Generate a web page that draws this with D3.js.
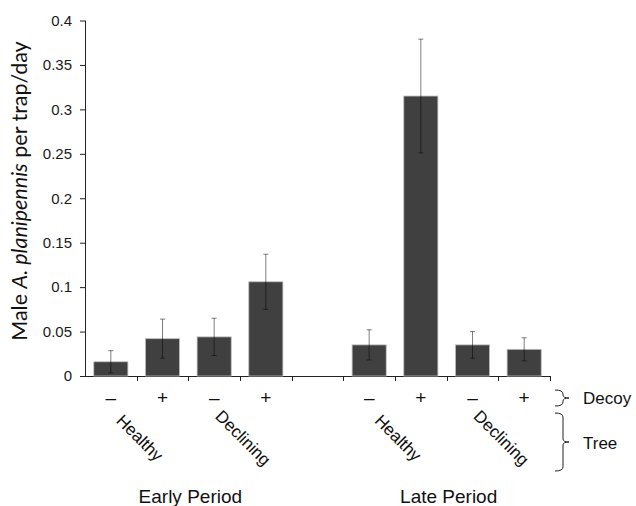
<!DOCTYPE html>
<html>
<head>
<meta charset="utf-8">
<script src="https://cdn.jsdelivr.net/npm/d3@7"></script>
<style>
  html, body { margin: 0; padding: 0; background: #fff; }
  svg { display: block; }
</style>
</head>
<body>
<div id="chart"></div>
<script>
// ---- data ----
const periods = ["Early Period", "Late Period"];
const trees = ["Healthy", "Declining"];
const decoys = ["–", "+"];
const slots = ["E-H-", "E-H+", "E-D-", "E-D+", "gap", "L-H-", "L-H+", "L-D-", "L-D+"];
const barSlots = ["E-H-", "E-H+", "E-D-", "E-D+", "L-H-", "L-H+", "L-D-", "L-D+"];
const values = [0.016, 0.042, 0.044, 0.106, 0.035, 0.315, 0.035, 0.030];
const errors = [0.0125, 0.022, 0.021, 0.031, 0.017, 0.064, 0.015, 0.013];
const yTicks = [0, 0.05, 0.1, 0.15, 0.2, 0.25, 0.3, 0.35, 0.4];
const yTickLabels = ["0", "0.05", "0.1", "0.15", "0.2", "0.25", "0.3", "0.35", "0.4"];
const periodGroups = [["E-H-", "E-D+"], ["L-H-", "L-D+"]];
const treeGroups = [["E-H-", "E-H+"], ["E-D-", "E-D+"], ["L-H-", "L-H+"], ["L-D-", "L-D+"]];
const treeLabels = ["Healthy", "Declining", "Healthy", "Declining"];

// ---- layout ----
const W = 636, H = 506;
const x0 = 85, x1 = 550, yTop = 20.5, yBase = 376;

const svg = d3.select("#chart").append("svg").attr("width", W).attr("height", H);
svg.append("rect").attr("width", W).attr("height", H).attr("fill", "#fff");

const x = d3.scaleBand().domain(slots).range([x0, x1]).paddingInner(0.34).paddingOuter(0.17);
const slot = d3.scaleBand().domain(slots).range([x0, x1]).padding(0);
const y = d3.scaleLinear().domain([0, 0.4]).range([yBase, yTop]);

const axisColor = "#222";
const font = "'Liberation Sans', Arial, sans-serif";

// y axis
const yAxis = svg.append("g").attr("transform", `translate(${x0},0)`)
  .call(d3.axisLeft(y).tickValues(yTicks).tickSize(5).tickPadding(8)
        .tickFormat((d, i) => yTickLabels[i]));
yAxis.select(".domain").attr("stroke", axisColor).attr("d", `M0.5,${yTop}V${yBase + 0.5}`);
yAxis.selectAll(".tick line").attr("stroke", axisColor);
yAxis.selectAll(".tick text").attr("font-family", font).attr("font-size", 15).attr("fill", "#1a1a1a");

// x axis line + ticks at slot boundaries
svg.append("line").attr("x1", x0).attr("x2", x1).attr("y1", yBase + 0.5).attr("y2", yBase + 0.5)
  .attr("stroke", axisColor);
svg.selectAll("line.xtick").data(slots).enter().append("line").attr("class", "xtick")
  .attr("x1", d => Math.round(slot(d) + slot.step()) + 0.5)
  .attr("x2", d => Math.round(slot(d) + slot.step()) + 0.5)
  .attr("y1", yBase).attr("y2", yBase + 5).attr("stroke", axisColor);

// bars
svg.selectAll("rect.bar").data(barSlots).enter().append("rect").attr("class", "bar")
  .attr("x", d => x(d)).attr("width", x.bandwidth())
  .attr("y", (d, i) => y(values[i])).attr("height", (d, i) => yBase - y(values[i]))
  .attr("fill", "#404040").attr("stroke", "#bdbdbd").attr("stroke-width", 0.8);

// error bars
const eb = svg.selectAll("g.err").data(barSlots).enter().append("g").attr("class", "err")
  .attr("stroke", "#000").attr("stroke-opacity", 0.5).attr("stroke-width", 1);
eb.append("line")
  .attr("x1", d => x(d) + x.bandwidth() / 2).attr("x2", d => x(d) + x.bandwidth() / 2)
  .attr("y1", (d, i) => y(values[i] + errors[i])).attr("y2", (d, i) => y(values[i] - errors[i]));
eb.append("line")
  .attr("x1", d => x(d) + x.bandwidth() / 2 - 2.5).attr("x2", d => x(d) + x.bandwidth() / 2 + 2.5)
  .attr("y1", (d, i) => y(values[i] + errors[i])).attr("y2", (d, i) => y(values[i] + errors[i]));
eb.append("line")
  .attr("x1", d => x(d) + x.bandwidth() / 2 - 2.5).attr("x2", d => x(d) + x.bandwidth() / 2 + 2.5)
  .attr("y1", (d, i) => y(values[i] - errors[i])).attr("y2", (d, i) => y(values[i] - errors[i]));

// decoy signs
svg.selectAll("text.decoy").data(barSlots).enter().append("text").attr("class", "decoy")
  .attr("x", d => x(d) + x.bandwidth() / 2).attr("y", 397)
  .attr("text-anchor", "middle").attr("dominant-baseline", "central")
  .attr("font-family", font).attr("font-size", 19).attr("fill", "#111")
  .text((d, i) => decoys[i % 2]);

// tree labels (rotated)
svg.selectAll("text.tree").data(treeGroups).enter().append("text").attr("class", "tree")
  .attr("transform", d => {
    const cx = (slot(d[0]) + slot(d[1]) + slot.step()) / 2 - 1;
    return `translate(${cx},442) rotate(45)`;
  })
  .attr("text-anchor", "middle")
  .attr("font-family", font).attr("font-size", 17).attr("fill", "#111")
  .text((d, i) => treeLabels[i]);

// period labels
svg.selectAll("text.period").data(periodGroups).enter().append("text").attr("class", "period")
  .attr("x", d => (slot(d[0]) + slot(d[1]) + slot.step()) / 2 + 2)
  .attr("y", 503)
  .attr("text-anchor", "middle")
  .attr("font-family", font).attr("font-size", 19).attr("fill", "#111")
  .text((d, i) => periods[i]);

// braces + legend labels
const brace = (top, bottom) => {
  const m = (top + bottom) / 2;
  return `M555,${top} Q563,${top} 563,${top + 4} L563,${m - 3} Q563,${m} 569,${m} Q563,${m} 563,${m + 3} L563,${bottom - 4} Q563,${bottom} 555,${bottom}`;
};
svg.append("path").attr("d", brace(390, 406)).attr("fill", "none").attr("stroke", "#222").attr("stroke-width", 1);
svg.append("path").attr("d", brace(413, 471)).attr("fill", "none").attr("stroke", "#222").attr("stroke-width", 1);
svg.append("text").attr("x", 583).attr("y", 398).attr("dominant-baseline", "central")
  .attr("font-family", font).attr("font-size", 17).attr("fill", "#111").text("Decoy");
svg.append("text").attr("x", 583).attr("y", 443).attr("dominant-baseline", "central")
  .attr("font-family", font).attr("font-size", 17).attr("fill", "#111").text("Tree");

// y label
const yl = svg.append("text")
  .attr("transform", `translate(27,191) rotate(-90)`)
  .attr("text-anchor", "middle")
  .attr("font-family", "Lato, 'Open Sans', sans-serif").attr("font-size", 21.5).attr("fill", "#111");
yl.append("tspan").text("Male ");
yl.append("tspan").attr("font-style", "italic").text("A. planipennis");
yl.append("tspan").text(" per trap/day");
</script>
</body>
</html>
